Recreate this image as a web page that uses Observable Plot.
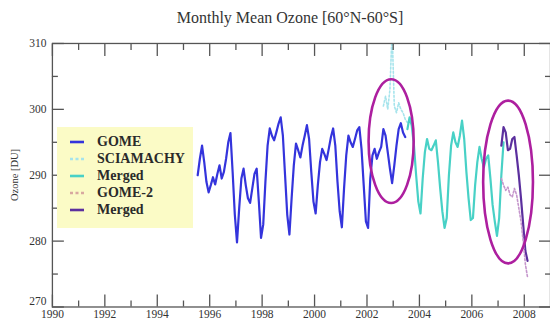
<!DOCTYPE html>
<html><head><meta charset="utf-8">
<script src="https://cdn.jsdelivr.net/npm/d3@7"></script>
<script src="https://cdn.jsdelivr.net/npm/@observablehq/plot@0.6"></script>
<style>
html,body{margin:0;padding:0;background:#fff;overflow:hidden;}
#wrap{position:relative;width:550px;height:321px;overflow:hidden;font-family:"Liberation Serif","DejaVu Serif",serif;}
#title{height:30px;width:580px;text-align:center;font-size:16px;line-height:36px;color:#333;white-space:nowrap;}
#legend{position:absolute;left:57px;top:127px;width:136px;height:101px;background:#fbfbc6;}
.row{position:absolute;left:0;height:16px;font-size:14px;font-weight:bold;color:#2a2a2a;line-height:16px;white-space:nowrap;}
.row svg{position:absolute;left:13px;top:3px;}
.row span{position:absolute;left:40px;top:0;}
#ylab{position:absolute;left:14px;top:175px;transform:translate(-50%,-50%) rotate(-90deg);font-size:10.5px;color:#333;white-space:nowrap;}
</style></head><body>
<div id="wrap"><div id="title">Monthly Mean Ozone [60°N-60°S]</div><div id="chart"></div><div id="legend"></div><div id="ylab">Ozone [DU]</div></div>
<script>
// ---- data (monthly means, DU) ----
const gomeStart = [1995, 7];
const gomeValues = [
  290.0, 292.5, 294.5, 292.0, 289.0, 287.4,
  288.5, 289.7, 288.6, 290.2, 291.5, 289.5, 290.5, 292.5, 295.0, 296.4, 290.5, 284.0,
  279.8, 285.0, 289.5, 291.0, 288.5, 286.5, 285.8, 288.0, 290.2, 291.0, 286.0, 280.5,
  282.5, 289.0, 294.5, 297.1, 296.0, 295.3, 296.5, 297.8, 298.8, 296.0, 290.0, 284.0,
  281.0, 286.5, 291.5, 294.8, 293.8, 292.7, 294.5, 296.0, 297.6, 295.5, 290.5, 286.0,
  284.2, 288.5, 292.0, 294.0, 293.2, 292.3, 294.0, 295.8, 297.1, 294.5, 289.0, 284.5,
  282.1, 288.0, 293.0, 296.0, 295.0, 294.3, 295.5, 296.8, 297.3, 294.0, 288.5, 283.0,
  282.0, 289.5, 293.0, 294.0, 292.5, 293.5, 294.3, 297.0, 296.0, 293.5, 291.0, 288.8,
  291.5, 294.5, 297.0, 297.9, 296.5, 295.8
];
const sciaStart = [2002, 8];
const sciaValues = [300.5, 302.0, 300.0, 303.0, 312.0, 300.5, 299.5, 301.0, 300.0, 299.5, 298.5, 298.0];
const merged1Start = [2003, 7];
const merged1Values = [
  297.0, 298.8, 297.5, 294.5, 290.0, 286.0,
  284.2, 289.5, 293.5, 295.5, 294.0, 293.8, 294.5, 295.3, 292.0, 288.0, 284.5, 282.0,
  283.5, 290.0, 294.5, 296.5, 295.0, 294.3, 296.0, 298.3, 295.5, 290.5, 286.5, 283.2,
  283.5, 288.5, 292.0, 294.3, 292.5, 291.2, 292.5, 293.0, 289.5, 285.5, 283.0, 280.8,
  283.5, 290.0, 295.0
];
const gome2Start = [2007, 2];
const gome2Values = [289.5, 288.5, 287.7, 288.2, 287.0, 286.7, 288.0, 287.0, 285.0, 283.0, 280.0, 276.5, 274.5];
const merged2Start = [2007, 2];
const merged2Values = [294.5, 297.3, 296.5, 293.8, 294.0, 295.5, 295.8, 293.0, 290.0, 286.5, 282.5, 278.5, 277.0];

// highlight ellipses (centre year, centre DU, half-width in years, half-height in DU)
const ellipseCx = [2002.94, 2007.4];
const ellipseCy = [295.1, 288.9];
const ellipseRx = [0.86, 0.95];
const ellipseRy = [9.4, 12.35];

const xMajorYears = [1990, 1992, 1994, 1996, 1998, 2000, 2002, 2004, 2006, 2008];
const xMinorYears = [1991, 1993, 1995, 1997, 1999, 2001, 2003, 2005, 2007];
const yMajor = [270, 280, 290, 300, 310];
const yMinor = [275, 285, 295, 305];
const yLabelsUpper = [280, 290, 300, 310];
const yLabelsBottom = [270];

const legendLabels = ["GOME", "SCIAMACHY", "Merged", "GOME-2", "Merged"];
const colors = {gome: "#3434dc", scia: "#a6e4ec", merged1: "#48d1c6", gome2: "#c596cc", merged2: "#5b2f9e", ring: "#ad1f9f"};
const legendColors = [colors.gome, colors.scia, colors.merged1, "#d8a8a0", colors.merged2];
const legendDashed = [false, true, false, true, false];

function series(start, values) {
  return values.map((v, i) => ({t: start[0] + (start[1] - 1 + i + 0.5) / 12, v}));
}

function ellipses(index, scales) {
  const {x, y} = scales;
  const g = d3.create("svg:g");
  ellipseCx.forEach((cx, i) => {
    g.append("ellipse")
      .attr("cx", x(cx)).attr("cy", y(ellipseCy[i]))
      .attr("rx", Math.abs(x(cx + ellipseRx[i]) - x(cx)))
      .attr("ry", Math.abs(y(ellipseCy[i] + ellipseRy[i]) - y(ellipseCy[i])))
      .attr("fill", "none").attr("stroke", colors.ring).attr("stroke-width", 2.6);
  });
  return g.node();
}

const axisStroke = "#555";
const chart = Plot.plot({
  width: 551, height: 291,
  marginTop: 13, marginBottom: 14, marginLeft: 52, marginRight: 0,
  style: {fontFamily: "'Liberation Serif', serif", fontSize: "11.5px", color: "#333", background: "#fff", overflow: "visible"},
  x: {domain: [1990, 2009], label: null},
  y: {domain: [270, 310], label: null},
  marks: [
    Plot.line(series(gomeStart, gomeValues), {x: "t", y: "v", stroke: colors.gome, strokeWidth: 2.2}),
    Plot.line(series(sciaStart, sciaValues), {x: "t", y: "v", stroke: colors.scia, strokeWidth: 1.6, strokeDasharray: "2,2", clip: true}),
    Plot.line(series(merged1Start, merged1Values), {x: "t", y: "v", stroke: colors.merged1, strokeWidth: 2.2}),
    Plot.line(series(merged2Start, merged2Values), {x: "t", y: "v", stroke: colors.merged2, strokeWidth: 2.2}),
    Plot.line(series(gome2Start, gome2Values), {x: "t", y: "v", stroke: colors.gome2, strokeWidth: 1.6, strokeDasharray: "2,2"}),
    ellipses,
    Plot.frame({stroke: axisStroke, strokeWidth: 1.3}),
    Plot.axisX(xMajorYears, {anchor: "bottom", tickSize: -12, fill: "none", stroke: axisStroke, strokeWidth: 1.3, label: null}),
    Plot.axisX(xMinorYears, {anchor: "bottom", tickSize: -6, fill: "none", stroke: axisStroke, strokeWidth: 1.3, label: null}),
    Plot.axisX(xMajorYears, {anchor: "top", tickSize: -12, fill: "none", stroke: axisStroke, strokeWidth: 1.3, label: null}),
    Plot.axisX(xMinorYears, {anchor: "top", tickSize: -6, fill: "none", stroke: axisStroke, strokeWidth: 1.3, label: null}),
    Plot.axisX(xMajorYears, {anchor: "bottom", tickSize: 0, tickPadding: 3, tickFormat: d => String(d), label: null}),
    Plot.axisY(yMajor, {anchor: "left", tickSize: -12, fill: "none", stroke: axisStroke, strokeWidth: 1.3, label: null}),
    Plot.axisY(yMinor, {anchor: "left", tickSize: -6, fill: "none", stroke: axisStroke, strokeWidth: 1.3, label: null}),
    Plot.axisY(yMajor, {anchor: "right", tickSize: -12, fill: "none", stroke: axisStroke, strokeWidth: 1.3, label: null}),
    Plot.axisY(yMinor, {anchor: "right", tickSize: -6, fill: "none", stroke: axisStroke, strokeWidth: 1.3, label: null}),
    Plot.axisY(yLabelsUpper, {anchor: "left", tickSize: 0, tickPadding: 6, label: null}),
    Plot.axisY(yLabelsBottom, {anchor: "left", tickSize: 0, tickPadding: 6, dy: -6, label: null})
  ]
});
document.getElementById("chart").appendChild(chart);

const legend = document.getElementById("legend");
legendLabels.forEach((lab, i) => {
  const row = document.createElement("div");
  row.className = "row";
  row.style.top = (7 + i * 17) + "px";
  row.innerHTML = `<svg width="14" height="10"><line x1="0" y1="5" x2="14" y2="5" stroke="${legendColors[i]}" stroke-width="2.6" ${legendDashed[i] ? 'stroke-dasharray="3,2.5"' : ''}/></svg><span>${lab}</span>`;
  legend.appendChild(row);
});
</script>
</body></html>
